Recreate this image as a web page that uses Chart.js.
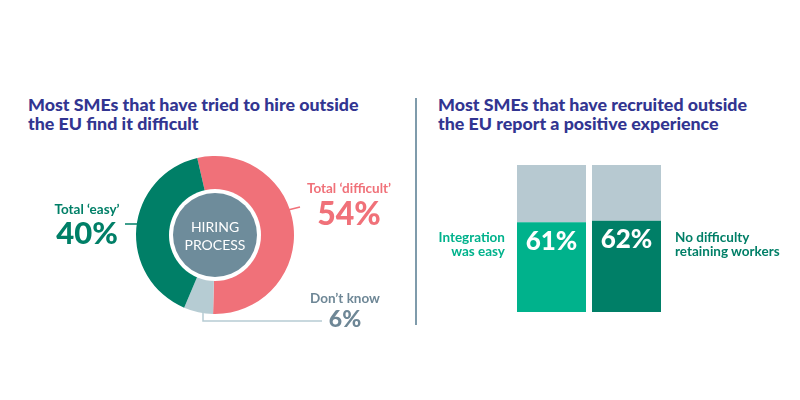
<!DOCTYPE html>
<html>
<head>
<meta charset="utf-8">
<script src="https://cdn.jsdelivr.net/npm/chart.js@4.4.1/dist/chart.umd.min.js"></script>
<style>
  body { margin: 0; background: #fff; width: 800px; height: 400px; position: relative; overflow: hidden; font-family: Lato, "Open Sans", sans-serif; }
  .title { position: absolute; top: 95px; font-size: 17.8px; line-height: 19px; font-weight: 900; color: #323591; white-space: nowrap; }
  .lbl { position: absolute; font-weight: 700; line-height: 1; white-space: nowrap; }
  .num { font-weight: 900; }
  .box { position: absolute; }
  #divider { position: absolute; left: 415px; top: 98px; width: 1.5px; height: 227px; background: #7f9bab; }
</style>
</head>
<body>
<div class="title" style="left:28px">Most SMEs that have tried to hire outside<br>the EU find it difficult</div>
<div class="title" style="left:438px">Most SMEs that have recruited outside<br>the EU report a positive experience</div>
<div id="divider"></div>

<div class="box" style="left:30px;top:150px;width:370px;height:190px"><canvas id="hire"></canvas></div>
<div class="box" style="left:514px;top:165px;width:150px;height:147px"><canvas id="exp"></canvas></div>

<div id="hireText"></div>
<div id="barText"></div>

<script>
// left: hiring outside the EU
const hireLabels = ['Total \u2018difficult\u2019', 'Don\u2019t know', 'Total \u2018easy\u2019'];
const hireValues = [54, 6, 40];
const hireColors = ['#f07179', '#b6ccd3', '#007f67'];

// right: experience of those who recruited
const barLabels = ['Integration\nwas easy', 'No difficulty\nretaining workers'];
const barValues = [61, 62];
const barRest = [39, 38];
const barColors = ['#00b28c', '#007f67'];
const restColor = '#b7c9d1';

// center disc + leader lines
const hireDeco = {
  id: 'hireDeco',
  afterDatasetsDraw(chart) {
    const ctx = chart.ctx;
    const arc = chart.getDatasetMeta(0).data[0];
    const cx = arc.x, cy = arc.y;
    ctx.save();
    ctx.fillStyle = '#fff';
    ctx.beginPath(); ctx.arc(cx, cy, 46, 0, Math.PI * 2); ctx.fill();
    ctx.fillStyle = '#6e8c9b';
    ctx.beginPath(); ctx.arc(cx, cy, 42, 0, Math.PI * 2); ctx.fill();

    ctx.lineWidth = 1.5;
    ctx.strokeStyle = hireColors[2];
    ctx.beginPath(); ctx.moveTo(cx - 90, cy - 11); ctx.lineTo(cx - 78, cy - 11); ctx.stroke();
    ctx.strokeStyle = hireColors[0];
    ctx.beginPath(); ctx.moveTo(cx + 73, cy - 25); ctx.lineTo(cx + 85, cy - 28); ctx.stroke();
    ctx.strokeStyle = hireColors[1];
    ctx.beginPath(); ctx.moveTo(cx - 12, cy + 77); ctx.lineTo(cx - 12, cy + 86); ctx.lineTo(cx + 107, cy + 86); ctx.stroke();
    ctx.restore();
  }
};

new Chart(document.getElementById('hire'), {
  type: 'doughnut',
  data: {
    labels: hireLabels,
    datasets: [{
      data: hireValues,
      backgroundColor: hireColors,
      borderWidth: 0
    }]
  },
  options: {
    responsive: true,
    maintainAspectRatio: false,
    animation: false,
    rotation: -13,
    cutout: '50%',
    layout: { padding: { left: 106, right: 106, top: 6, bottom: 26 } },
    plugins: { legend: { display: false }, tooltip: { enabled: false } }
  },
  plugins: [hireDeco]
});

// labels around the doughnut
const hireText = document.getElementById('hireText');
const hirePos = [
  { x: 349, y1: 182, y2: 197, color: hireColors[0], big: 32 },
  { x: 345, y1: 292, y2: 307, color: '#6e8796', big: 23 },
  { x: 87, y1: 203, y2: 217, color: hireColors[2], big: 31 }
];
hireLabels.forEach(function (lab, i) {
  const p = hirePos[i];
  hireText.innerHTML +=
    '<div class="lbl" style="left:' + (p.x - 70) + 'px;width:140px;text-align:center;top:' + p.y1 + 'px;font-size:13.5px;color:' + p.color + '">' + lab + '</div>' +
    '<div class="lbl num" style="left:' + (p.x - 70) + 'px;width:140px;text-align:center;top:' + p.y2 + 'px;font-size:' + p.big + 'px;color:' + p.color + '">' + hireValues[i] + '%</div>';
});
hireText.innerHTML += '<div class="lbl" style="left:165px;width:100px;text-align:center;top:218px;font-size:14px;line-height:18px;font-weight:400;color:#fff">HIRING<br>PROCESS</div>';

// value labels inside the bars
const barValueLabels = {
  id: 'barValueLabels',
  afterDatasetsDraw(chart) {
    const ctx = chart.ctx;
    ctx.save();
    ctx.fillStyle = '#fff';
    ctx.font = '900 26px Lato';
    ctx.textAlign = 'center';
    ctx.textBaseline = 'middle';
    chart.getDatasetMeta(0).data.forEach(function (bar, i) {
      ctx.fillText(barValues[i] + '%', bar.x, bar.y + 19);
    });
    ctx.restore();
  }
};

new Chart(document.getElementById('exp'), {
  type: 'bar',
  data: {
    labels: barLabels,
    datasets: [
      { data: barValues, backgroundColor: barColors, borderWidth: 0, barPercentage: 0.92, categoryPercentage: 1 },
      { data: barRest, backgroundColor: restColor, borderWidth: 0, barPercentage: 0.92, categoryPercentage: 1 }
    ]
  },
  options: {
    responsive: true,
    maintainAspectRatio: false,
    animation: false,
    layout: { padding: 0 },
    scales: {
      x: { stacked: true, display: false },
      y: { stacked: true, display: false, min: 0, max: 100 }
    },
    plugins: { legend: { display: false }, tooltip: { enabled: false } }
  },
  plugins: [barValueLabels]
});

// side labels of the bars
const barText = document.getElementById('barText');
barText.innerHTML =
  '<div class="lbl" style="right:' + (800 - 505) + 'px;top:230px;font-size:13.5px;line-height:14px;text-align:right;color:' + barColors[0] + '">' + barLabels[0].replace('\n', '<br>') + '</div>' +
  '<div class="lbl" style="left:675px;top:230px;font-size:13.5px;line-height:14px;color:' + barColors[1] + '">' + barLabels[1].replace('\n', '<br>') + '</div>';
</script>
</body>
</html>
